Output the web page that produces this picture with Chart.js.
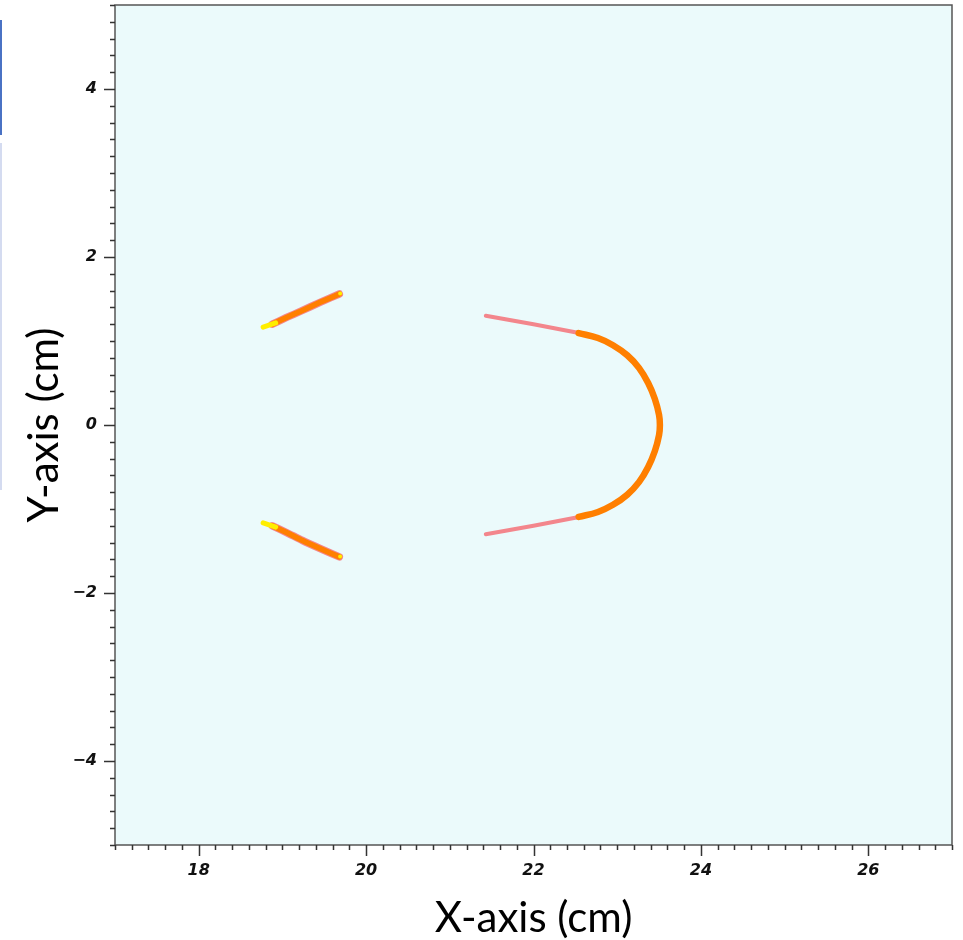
<!DOCTYPE html>
<html>
<head>
<meta charset="utf-8">
<script src="https://cdn.jsdelivr.net/npm/chart.js@4.4.0/dist/chart.umd.min.js"></script>
<style>
  html, body { margin: 0; padding: 0; background: #fff; }
  #wrap { width: 963px; height: 940px; position: relative; }
</style>
</head>
<body>
<div id="wrap"><canvas id="plot"></canvas></div>
<script>
// axis ranges (cm)
const xRange = [17, 27];
const yRange = [-5, 5];

// left arcs
const leftUpperX = [18.88, 19.05, 19.22, 19.45, 19.68];
const leftUpperY = [1.20, 1.28, 1.355, 1.46, 1.56];
const leftLowerX = [18.88, 19.05, 19.24, 19.45, 19.68];
const leftLowerY = [-1.20, -1.28, -1.375, -1.47, -1.57];
// yellow tips of the left arcs
const tipUpperX = [18.77, 18.92];
const tipUpperY = [1.165, 1.215];
const tipLowerX = [18.77, 18.92];
const tipLowerY = [-1.165, -1.215];
const tipEndX = [19.69, 19.69];
const tipEndY = [1.565, -1.565];

// right U shape: straight legs + rounded nose
const uLegX = [21.43, 22.0, 22.56];
const uLegTopY = [1.30, 1.20, 1.092];
const uArcX = [22.54, 22.77, 22.95, 23.12, 23.26, 23.37, 23.45, 23.50, 23.51, 23.50, 23.45, 23.37, 23.26, 23.12, 22.95, 22.77, 22.54];
const uArcY = [1.095, 1.035, 0.95, 0.83, 0.68, 0.50, 0.31, 0.12, 0, -0.12, -0.31, -0.50, -0.68, -0.83, -0.95, -1.035, -1.095];

const pts = (xs, ys) => xs.map((x, i) => ({ x: x, y: ys[i] }));
const neg = arr => arr.map(v => -v);

const orange = '#ff7f00';
const pink = '#f3868c';
const yellow = '#ffee00';

function line(data, color, width, tension) {
  return {
    data: data,
    showLine: true,
    borderColor: color,
    backgroundColor: color,
    borderWidth: width,
    pointRadius: 0,
    tension: tension || 0,
    borderCapStyle: 'round'
  };
}

const isMajor = v => Math.abs(v / 2 - Math.round(v / 2)) < 1e-6;
const fmt = v => {
  const n = Math.round(v);
  return n < 0 ? '\u2212' + Math.abs(n) : String(n);
};

const frame = {
  id: 'frame',
  beforeDraw(chart) {
    const ctx = chart.ctx, a = chart.chartArea;
    ctx.save();
    // slide edge strips
    ctx.fillStyle = '#4a72c4';
    ctx.fillRect(0, 20, 2, 115);
    ctx.fillStyle = '#d4dbf0';
    ctx.fillRect(0, 143, 2, 347);
    ctx.fillStyle = '#ebfafb';
    ctx.fillRect(a.left, a.top, a.right - a.left, a.bottom - a.top);
    ctx.restore();
  },
  afterDraw(chart) {
    const ctx = chart.ctx, a = chart.chartArea;
    ctx.save();
    ctx.strokeStyle = '#555';
    ctx.lineWidth = 1.5;
    ctx.strokeRect(a.left, a.top, a.right - a.left, a.bottom - a.top);
    ctx.strokeStyle = '#333';
    ctx.lineWidth = 1.5;
    const xs = chart.scales.x, ys = chart.scales.y;
    ctx.beginPath();
    xs.ticks.forEach((t, i) => {
      const px = Math.round(xs.getPixelForTick(i)) + 0.5;
      const len = isMajor(t.value) ? 11 : 5;
      ctx.moveTo(px, a.bottom);
      ctx.lineTo(px, a.bottom + len);
    });
    ys.ticks.forEach((t, i) => {
      const py = Math.round(ys.getPixelForTick(i)) + 0.5;
      const len = isMajor(t.value) ? 11 : 5;
      ctx.moveTo(a.left, py);
      ctx.lineTo(a.left - len, py);
    });
    ctx.stroke();
    ctx.restore();
  }
};

const noPad = s => {
  s.paddingTop = 0; s.paddingBottom = 0;
  s.paddingLeft = 0; s.paddingRight = 0;
};

const tickFont = { family: 'DejaVu Sans', size: 16, weight: 'bold', style: 'italic' };
const titleFont = { family: 'Lato', size: 42, lineHeight: 1 };

new Chart(document.getElementById('plot'), {
  type: 'scatter',
  data: {
    // first dataset is drawn on top
    datasets: [
      {
        data: pts(tipEndX, tipEndY),
        showLine: false,
        pointRadius: 2,
        pointBorderWidth: 0,
        pointBackgroundColor: yellow
      },
      line(pts(tipUpperX, tipUpperY), yellow, 5),
      line(pts(tipLowerX, tipLowerY), yellow, 5),
      line(pts(leftUpperX, leftUpperY), orange, 5.5, 0.2),
      line(pts(leftLowerX, leftLowerY), orange, 5.5, 0.2),
      line(pts(leftUpperX, leftUpperY), pink, 7.5, 0.2),
      line(pts(leftLowerX, leftLowerY), pink, 7.5, 0.2),
      line(pts(uArcX, uArcY), orange, 6.5, 0.4),
      line(pts(uLegX, uLegTopY), pink, 4, 0.1),
      line(pts(uLegX, neg(uLegTopY)), pink, 4, 0.1)
    ]
  },
  options: {
    responsive: true,
    maintainAspectRatio: false,
    animation: false,
    layout: { padding: { top: 5, right: 11, left: 0, bottom: 0 } },
    plugins: { legend: { display: false }, tooltip: { enabled: false } },
    scales: {
      x: {
        type: 'linear',
        min: xRange[0],
        max: xRange[1],
        afterFit: s => { s.height = 95; noPad(s); },
        border: { display: false },
        grid: { drawOnChartArea: false, drawTicks: false },
        ticks: {
          stepSize: 0.2,
          autoSkip: false,
          maxRotation: 0,
          padding: 16,
          color: '#111',
          font: tickFont,
          callback: v => isMajor(v) ? fmt(v) : ''
        },
        title: {
          display: true,
          text: 'X-axis (cm)',
          color: '#000',
          font: titleFont,
          padding: { top: 0, bottom: 1 }
        }
      },
      y: {
        type: 'linear',
        min: yRange[0],
        max: yRange[1],
        afterFit: s => { s.width = 115; noPad(s); },
        border: { display: false },
        grid: { drawOnChartArea: false, drawTicks: false },
        ticks: {
          stepSize: 0.2,
          autoSkip: false,
          padding: 18,
          color: '#111',
          font: tickFont,
          callback: v => isMajor(v) ? fmt(v) : ''
        },
        title: {
          display: true,
          text: 'Y-axis (cm)',
          color: '#000',
          font: titleFont,
          padding: { top: 23, bottom: 0 }
        }
      }
    }
  },
  plugins: [frame]
});
</script>
</body>
</html>
